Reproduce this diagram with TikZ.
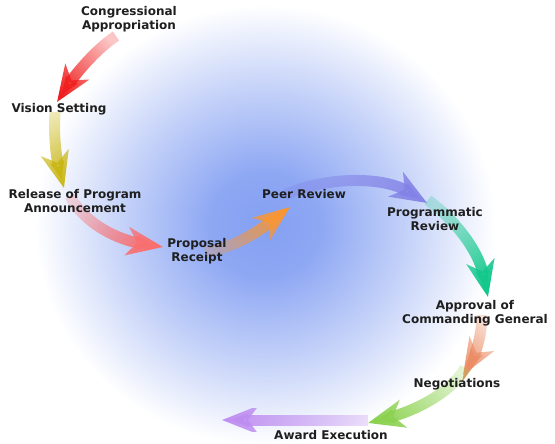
\documentclass[tikz,border=0pt]{standalone}
\usepackage{fontspec}
\setmainfont{DejaVu Sans}
\usetikzlibrary{arrows.meta,fadings,shadings}
\tikzfading[name=arrowfade, left color=transparent!75, right color=transparent!0]
\definecolor{bgblue}{RGB}{132,160,242}
\pgfdeclareradialshading{bgshade}{\pgfpoint{0bp}{0bp}}{color(0bp)=(bgblue); color(6bp)=(bgblue!92!white); color(15bp)=(bgblue!50!white); color(25bp)=(white); color(50bp)=(white)}
\definecolor{cred}{RGB}{240,30,30}
\definecolor{cyel}{RGB}{200,180,10}
\definecolor{cpink}{RGB}{250,110,110}
\definecolor{corange}{RGB}{250,150,50}
\definecolor{cperi}{RGB}{130,130,230}
\definecolor{cteal}{RGB}{20,200,140}
\definecolor{csalmon}{RGB}{235,140,100}
\definecolor{cgreen}{RGB}{140,210,80}
\definecolor{clav}{RGB}{190,140,240}
\tikzset{
  lbl/.style={font=\bfseries\fontsize{12}{14}\selectfont, text=black!88, align=center, inner sep=0pt},
  flow/.style={line width=11pt, draw=#1, -{Stealth[length=36pt,width=28pt,inset=10pt]}, path fading=arrowfade},
}
\begin{document}
\begin{tikzpicture}[x=1pt,y=-1pt]
\fill[white] (0,0) rectangle (555,444);
\useasboundingbox (0,0) rectangle (555,444);
\shade[shading=bgshade] (265,225) ellipse (230 and 220);
% arrow end points
\coordinate (r0) at (116,36);   \coordinate (r1) at (57,102);
\coordinate (y0) at (55,112);   \coordinate (y1) at (64,188);
\coordinate (p0) at (70,196);   \coordinate (p1) at (163,247);
\coordinate (o0) at (205,252);  \coordinate (o1) at (290,207);
\coordinate (b0) at (285,195);  \coordinate (b1) at (427,203);
\coordinate (t0) at (428,200);  \coordinate (t1) at (488,297);
\coordinate (s0) at (482,315);  \coordinate (s1) at (463,375);
\coordinate (g0) at (465,368);  \coordinate (g1) at (368,423);
\coordinate (l0) at (368,420);  \coordinate (l1) at (222,420);
% arrows
\draw[flow=cred, fading angle=227] (r0) .. controls (95,50) and (75,75) .. (r1);
\draw[flow=cyel, fading angle=277] (y0) .. controls (53,140) and (58,165) .. (y1);
\draw[flow=cpink, fading angle=-28] (p0) .. controls (85,225) and (120,240) .. (p1);
\draw[flow=corange, fading angle=29] (o0) .. controls (235,248) and (260,230) .. (o1);
\draw[flow=cperi, fading angle=-5] (b0) .. controls (320,178) and (380,175) .. (b1);
\draw[flow=cteal, fading angle=-59] (t0) .. controls (455,220) and (478,250) .. (t1);
\draw[flow=csalmon, fading angle=251] (s0) .. controls (482,340) and (472,360) .. (s1);
\draw[flow=cgreen, fading angle=208] (g0) .. controls (450,395) and (410,412) .. (g1);
\draw[flow=clav, fading angle=180] (l0) -- (l1);
% labels
\node[lbl] (cong) at (129,19) {Congressional\\Appropriation};
\node[lbl] (vis) at (59,109) {Vision Setting};
\node[lbl] (rel) at (75,201) {Release of Program\\Announcement};
\node[lbl] (prop) at (197,251) {Proposal\\Receipt};
\node[lbl] (peer) at (304,194) {Peer Review};
\node[lbl] (prog) at (435,219) {Programmatic\\Review};
\node[lbl] (appr) at (475,313) {Approval of\\Commanding General};
\node[lbl] (neg) at (457,384) {Negotiations};
\node[lbl] (award) at (331,435) {Award Execution};
\end{tikzpicture}
\end{document}
